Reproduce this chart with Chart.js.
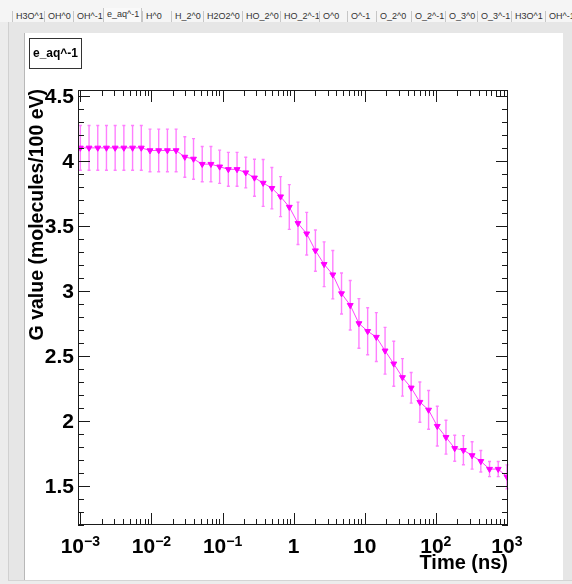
<!DOCTYPE html>
<html>
<head>
<meta charset="utf-8">
<script src="https://cdn.jsdelivr.net/npm/chart.js@4.4.1/dist/chart.umd.min.js"></script>
<style>
  html, body { margin: 0; padding: 0; }
  body {
    width: 572px; height: 584px; position: relative; overflow: hidden;
    background: #ececec; font-family: "Liberation Sans", Arial, sans-serif;
  }
  #tabbar { position: absolute; left: 0; top: 0; width: 572px; height: 22px; background: #f5f5f5; }
  .tab {
    position: absolute; top: 11px; height: 11px; box-sizing: border-box;
    border-left: 1px solid #c6c6c6; font-size: 9px; line-height: 11px;
    padding-left: 3px; color: #333; white-space: nowrap; overflow: hidden;
  }
  .tab.sel { top: 8px; height: 14px; line-height: 12px; border-right: 1px solid #c6c6c6; background: #f9f9f9; }
  #frame {
    position: absolute; left: 8px; top: 22px; width: 564px; height: 559px;
    box-sizing: border-box; background: #e6e6e6;
    border-left: 1px solid #d0d0d0; border-bottom: 1px solid #d4d4d4;
  }
  #pad {
    position: absolute; left: 24px; top: 33px; width: 539px; height: 547px;
    box-sizing: border-box; background: #fff; border-left: 1px solid #b8b8b8;
  }
  #plot { position: absolute; left: 24px; top: 33px; }
</style>
</head>
<body>
<div id="tabbar"></div>
<div id="frame"></div>
<div id="pad"></div>
<canvas id="plot" width="539" height="547"></canvas>
<script>
// species tabs along the top: label, left edge, right edge
const tabNames = ['H3O^1', 'OH^0', 'OH^-1', 'e_aq^-1', 'H^0', 'H_2^0', 'H2O2^0', 'HO_2^0', 'HO_2^-1',
  'O^0', 'O^-1', 'O_2^0', 'O_2^-1', 'O_3^0', 'O_3^-1', 'H3O^1', 'OH^-1'];
const tabEdges = [12, 44, 73, 103, 142, 171, 203, 242, 280, 319, 347, 376, 411, 445, 477, 511, 545, 590];
const selectedTab = 3;

// e_aq^-1 G value vs time
const times = [0.001, 0.001326, 0.001758, 0.00233, 0.003089, 0.004095, 0.005429, 0.007197, 0.009541, 0.01265,
  0.01677, 0.02223, 0.02947, 0.03907, 0.05179, 0.06866, 0.09103, 0.1207, 0.16, 0.2121,
  0.2812, 0.3728, 0.4942, 0.6551, 0.8685, 1.151, 1.526, 2.024, 2.683, 3.556,
  4.715, 6.251, 8.286, 10.99, 14.56, 19.31, 25.6, 33.93, 44.99, 59.64,
  79.06, 104.8, 138.9, 184.2, 244.2, 323.7, 429.2, 568.9, 754.3, 1000];
const gValue = [4.10, 4.10, 4.10, 4.10, 4.10, 4.10, 4.10, 4.10, 4.08, 4.08,
  4.08, 4.08, 4.03, 4.015, 3.975, 3.975, 3.955, 3.935, 3.935, 3.91,
  3.87, 3.83, 3.79, 3.725, 3.645, 3.52, 3.44, 3.31, 3.205, 3.125,
  2.98, 2.89, 2.75, 2.69, 2.645, 2.54, 2.44, 2.335, 2.255, 2.145,
  2.085, 1.96, 1.875, 1.79, 1.775, 1.735, 1.69, 1.63, 1.63, 1.57];
const gError = [0.172, 0.172, 0.172, 0.172, 0.172, 0.172, 0.172, 0.172, 0.164, 0.164,
  0.164, 0.164, 0.156, 0.156, 0.136, 0.136, 0.128, 0.13, 0.13, 0.118,
  0.142, 0.18, 0.159, 0.154, 0.172, 0.163, 0.164, 0.159, 0.172, 0.186,
  0.158, 0.19, 0.191, 0.181, 0.188, 0.18, 0.173, 0.144, 0.118, 0.155,
  0.149, 0.153, 0.13, 0.1, 0.112, 0.105, 0.083, 0.058, 0.058, 0.092];

const yTicks = [1.5, 2, 2.5, 3, 3.5, 4, 4.5];
const yTickLabels = ['1.5', '2', '2.5', '3', '3.5', '4', '4.5'];
const xDecades = [-3, -2, -1, 0, 1, 2, 3];
const legendText = 'e_aq^-1';
const xTitle = 'Time (ns)';
const yTitle = 'G value (molecules/100 eV)';

// tabs
const bar = document.getElementById('tabbar');
tabNames.forEach((name, i) => {
  const d = document.createElement('div');
  d.className = 'tab' + (i === selectedTab ? ' sel' : '');
  d.style.left = tabEdges[i] + 'px';
  d.style.width = (tabEdges[i + 1] - tabEdges[i]) + 'px';
  d.textContent = name;
  bar.appendChild(d);
});

const FONT = '"Liberation Sans", Arial, sans-serif';
const MAGENTA = '#ff00ff';

// error bars underneath the graph
const errorBars = {
  id: 'errorBars',
  beforeDatasetsDraw(chart) {
    const { ctx, scales: { x, y } } = chart;
    ctx.save();
    ctx.strokeStyle = 'rgba(255, 0, 255, 0.5)';
    ctx.lineWidth = 1.4;
    times.forEach((t, i) => {
      const px = x.getPixelForValue(t);
      const top = y.getPixelForValue(gValue[i] + gError[i]);
      const bot = y.getPixelForValue(gValue[i] - gError[i]);
      ctx.beginPath();
      ctx.moveTo(px, top); ctx.lineTo(px, bot);
      ctx.moveTo(px - 1.5, top); ctx.lineTo(px + 1.5, top);
      ctx.moveTo(px - 1.5, bot); ctx.lineTo(px + 1.5, bot);
      ctx.stroke();
    });
    ctx.restore();
  }
};

// frame with inward ticks on all four sides, labels, titles and the legend box
const rootFrame = {
  id: 'rootFrame',
  afterDraw(chart) {
    const { ctx, chartArea: a, scales: { x, y } } = chart;
    const major = 12, minor = 6;
    ctx.save();
    ctx.strokeStyle = '#1a1a1a';
    ctx.lineWidth = 1;
    ctx.strokeRect(a.left + 0.5, a.top + 0.5, a.right - a.left - 1, a.bottom - a.top - 1);

    ctx.beginPath();
    // y ticks every 0.1, longer every 0.5
    for (let k = Math.ceil(y.min * 10); k <= Math.floor(y.max * 10); k++) {
      const py = Math.round(y.getPixelForValue(k / 10)) + 0.5;
      const len = k % 5 === 0 ? major : minor;
      ctx.moveTo(a.left, py); ctx.lineTo(a.left + len, py);
      ctx.moveTo(a.right, py); ctx.lineTo(a.right - len, py);
    }
    // x ticks: decades plus 2..9 within each decade
    xDecades.forEach(d => {
      for (let m = 1; m <= 9; m++) {
        const v = m * Math.pow(10, d);
        if (v < x.min || v > x.max) continue;
        const px = Math.round(x.getPixelForValue(v)) + 0.5;
        const len = m === 1 ? major : minor;
        ctx.moveTo(px, a.bottom); ctx.lineTo(px, a.bottom - len);
        ctx.moveTo(px, a.top); ctx.lineTo(px, a.top + len);
      }
    });
    ctx.stroke();

    ctx.fillStyle = '#000';
    // y tick labels
    ctx.font = 'bold 21px ' + FONT;
    ctx.textAlign = 'right';
    ctx.textBaseline = 'alphabetic';
    yTicks.forEach((v, i) => {
      ctx.fillText(yTickLabels[i], a.left - 4, y.getPixelForValue(v) + 7.5);
    });

    // x tick labels with raised exponents
    const base = a.bottom + 28;
    xDecades.forEach(d => {
      const px = x.getPixelForValue(Math.pow(10, d));
      ctx.textAlign = 'left';
      if (d === 0 || d === 1) {
        ctx.font = 'bold 21px ' + FONT;
        const txt = d === 0 ? '1' : '10';
        ctx.fillText(txt, px - ctx.measureText(txt).width / 2, base);
        return;
      }
      const exp = d < 0 ? '\u2212' + (-d) : String(d);
      ctx.font = 'bold 21px ' + FONT;
      const w1 = ctx.measureText('10').width;
      ctx.font = 'bold 14px ' + FONT;
      const w2 = ctx.measureText(exp).width;
      const x0 = px - (w1 + w2) / 2;
      ctx.font = 'bold 21px ' + FONT;
      ctx.fillText('10', x0, base);
      ctx.font = 'bold 14px ' + FONT;
      ctx.fillText(exp, x0 + w1, base - 7);
    });

    // axis titles, right-aligned to the axis ends
    ctx.font = 'bold 20px ' + FONT;
    ctx.textAlign = 'right';
    ctx.fillText(xTitle, a.right, a.bottom + 44);
    ctx.font = 'bold 19.5px ' + FONT;
    ctx.save();
    ctx.translate(a.left - 35, a.top - 1);
    ctx.rotate(-Math.PI / 2);
    ctx.fillText(yTitle, 0, 0);
    ctx.restore();

    // legend box
    ctx.strokeStyle = '#333';
    ctx.strokeRect(5.5, 5.5, 52, 30);
    ctx.font = 'bold 12px ' + FONT;
    ctx.textAlign = 'center';
    ctx.fillText(legendText, 31.5, 24);
    ctx.restore();
  }
};

new Chart(document.getElementById('plot'), {
  type: 'scatter',
  data: {
    datasets: [{
      label: legendText,
      data: times.map((t, i) => ({ x: t, y: gValue[i] })),
      showLine: true,
      borderColor: 'rgba(255, 0, 255, 0.75)',
      borderWidth: 1,
      pointStyle: 'triangle',
      rotation: 180,
      pointRadius: 3.4,
      pointBackgroundColor: MAGENTA,
      pointBorderColor: MAGENTA,
      pointBorderWidth: 1,
    }],
  },
  options: {
    responsive: false,
    animation: false,
    layout: { padding: { left: 54, top: 57, right: 55, bottom: 55 } },
    plugins: { legend: { display: false }, tooltip: { enabled: false } },
    scales: {
      x: { type: 'logarithmic', display: false, min: 0.000927, max: 1035 },
      y: { type: 'linear', display: false, min: 1.2, max: 4.545 },
    },
  },
  plugins: [errorBars, rootFrame],
});
</script>
</body>
</html>
